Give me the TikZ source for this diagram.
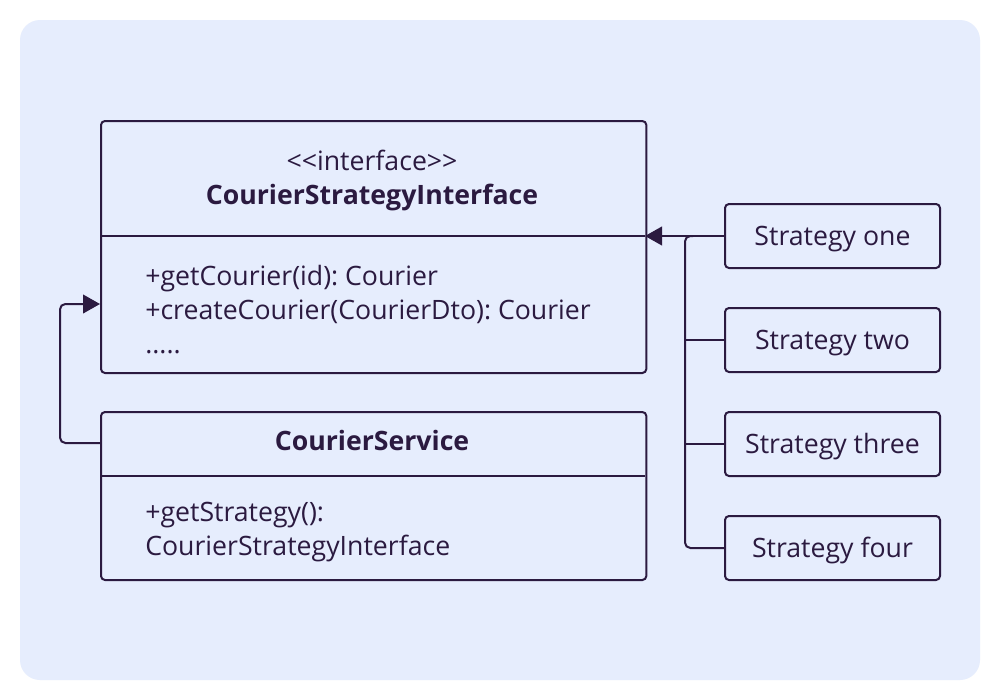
\documentclass[tikz,border=0pt]{standalone}
\usepackage{fontspec}
\setmainfont{Open Sans}
\frenchspacing
\usetikzlibrary{arrows.meta,calc}
\definecolor{ink}{HTML}{2B1A40}
\definecolor{panel}{HTML}{E6EDFD}
\tikzset{
  box/.style={draw=ink,line width=1.5pt,rounded corners=3pt,inner sep=0pt},
  txt/.style={text=ink,font=\fontsize{20}{24}\selectfont,inner sep=0pt},
  btxt/.style={txt,font=\fontsize{20}{24}\selectfont\bfseries},
  conn/.style={draw=ink,line width=1.5pt,rounded corners=4pt},
  tip/.style={-{Triangle[length=12.75pt,width=14pt]}}
}
\begin{document}
\begin{tikzpicture}[x=0.75pt,y=-0.75pt]
\useasboundingbox (0,0) rectangle (1000,700);
\fill[white] (0,0) rectangle (1000,700);
\fill[panel,rounded corners=15pt] (20,20) rectangle (980,680);
% interface box
\node[box,minimum width=409pt,minimum height=189pt,anchor=north west] (iface) at (100,120) {};
\draw[ink,line width=1.5pt] (100,236) -- (645,236);
\node[txt,anchor=base] (stereo) at (372,170) {{<}{<}interface{>}{>}};
\node[btxt,anchor=base] (iname) at (372,204) {CourierStrategyInterface};
\node[txt,anchor=base west] (m1) at (145,285) {+getCourier(id): Courier};
\node[txt,anchor=base west] (m2) at (145,319) {+createCourier(CourierDto): Courier};
\node[txt,anchor=base west] (m3) at (145,353) {.....};
% service box
\node[box,minimum width=409pt,minimum height=126pt,anchor=north west] (svc) at (100,411) {};
\draw[ink,line width=1.5pt] (100,476) -- (645,476);
\node[btxt,anchor=base] (sname) at (372,450) {CourierService};
\node[txt,anchor=base west] (g1) at (145,521) {+getStrategy():};
\node[txt,anchor=base west] (g2) at (145,555) {CourierStrategyInterface};
% strategies
\foreach \n/\y/\t in {s1/236/Strategy one,s2/340/Strategy two,s3/444/Strategy three,s4/548/Strategy four}{
  \node[box,minimum width=161.25pt,minimum height=48pt] (\n) at (832.5,\y) {};
  \node[txt,anchor=base] at ($(\n.center)+(0,9)$) {\t};
}
\coordinate (ifaceport) at (645,236);
\coordinate (bus) at (685,236);
\draw[conn,tip] (s1.west) -- (ifaceport);
\draw[conn] (s4.west) -| (bus) -- ($(bus)+(8,0)$);
\draw[conn] (s2.west) -- (s2.west -| bus);
\draw[conn] (s3.west) -- (s3.west -| bus);
% service to interface
\coordinate (leftrail) at (60,443);
\coordinate (svcport) at (100,443);
\coordinate (ifport) at (100,304);
\draw[conn,tip] (svcport) -- (leftrail) |- (ifport);
\end{tikzpicture}
\end{document}
